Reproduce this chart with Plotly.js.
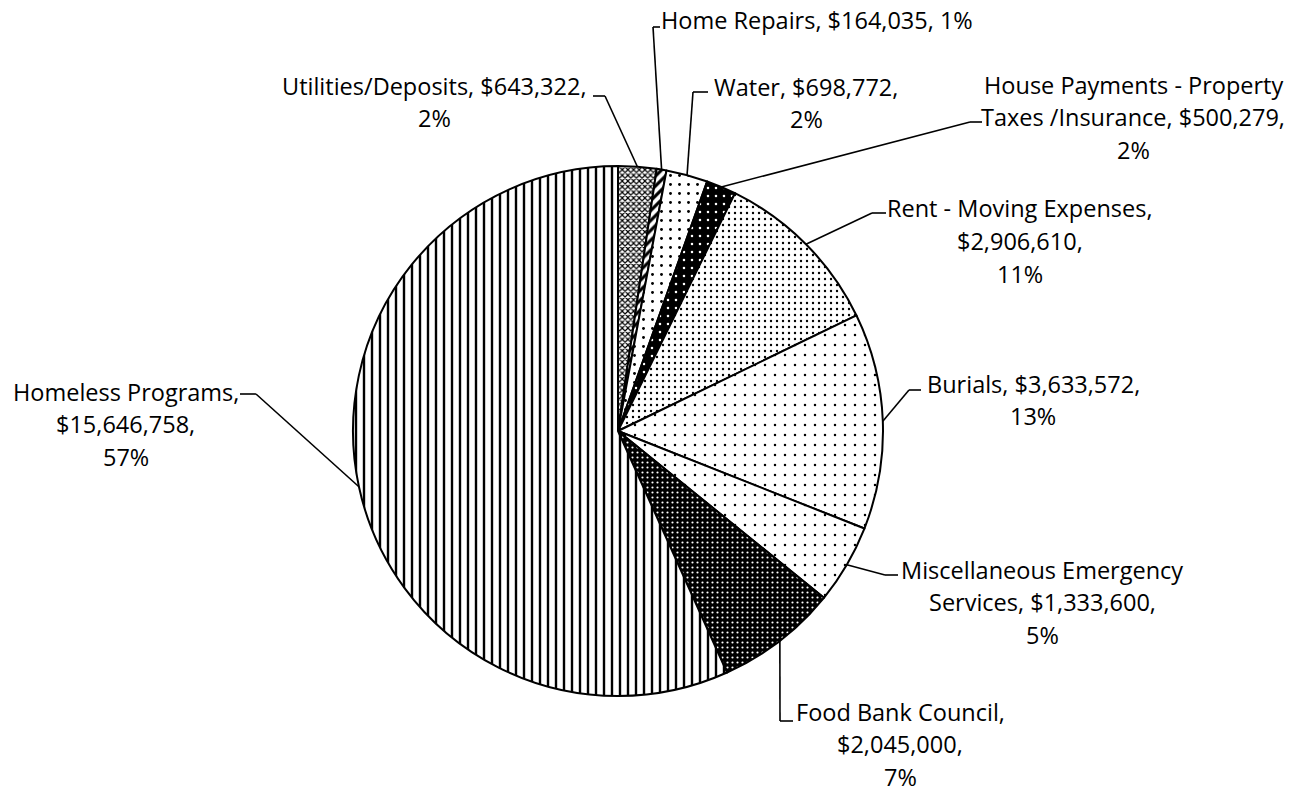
<!DOCTYPE html>
<html><head><meta charset="utf-8">
<script src="https://cdn.plot.ly/plotly-3.0.1.min.js"></script>
<style>html,body{margin:0;padding:0;background:#fff}#chart{width:1289px;height:793px}</style>
</head><body><div id="chart"></div>
<script>
// ---- data ----
const categories = ["Utilities/Deposits", "Home Repairs", "Water",
  "House Payments - Property Taxes /Insurance", "Rent - Moving Expenses", "Burials",
  "Miscellaneous Emergency Services", "Food Bank Council", "Homeless Programs"];
const values = [643322, 164035, 698772, 500279, 2906610, 3633572, 1333600, 2045000, 15646758];
const percentLabels = ["2%", "1%", "2%", "2%", "11%", "13%", "5%", "7%", "57%"];

// ---- layout constants ----
const W = 1289, H = 793;
const CX = 618, CY = 431, R = 265;
const lineWords = [[2,1],[4],[2,1],[4,3,1],[4,1,1],[2,1],[2,2,1],[3,1,1],[2,1,1]];
const labelPos = [[435,102],[817,20],[806,103],[1133,117],[1020,241],[1033,400],[1042,602],[900,744],[126,424]];
const stubs = [[593,605,96],[660,653,27],[708,693,92],[982,970,122],[886,872,213],[921,909,390],[898,885,575],[793,780,721],[240,256,394]];
const LINE_H = 32.5;
const FONT = {family: "Open Sans, sans-serif", size: 23.5, color: "#000"};

const styles = {
  shape:    ["x",   "/",   ".",   ".",   ".",   ".",   ".",   ".",   "|"],
  fg:       ["#000","#000","#000","#fff","#000","#000","#000","#fff","#000"],
  bg:       ["#fff","#fff","#fff","#000","#fff","#fff","#fff","#000","#fff"],
  size:     [4,     7,     9,     8,     6,     10,    10,    5,     8],
  solidity: [0.5,   0.45,  0.08,  0.08,  0.12,  0.05,  0.05,  0.15,  0.3]
};

const fmt = v => "$" + v.toLocaleString("en-US");
const total = values.reduce((a,b)=>a+b,0);
const px = x => x / W, py = y => 1 - y / H;

const annotations = [];
const shapes = [];
let cum = 0;
values.forEach((v, i) => {
  const words = `${categories[i]}, ${fmt(v)}, ${percentLabels[i]}`.split(" ");
  const lines = []; let k = 0;
  lineWords[i].forEach(n => { lines.push(words.slice(k, k+n).join(" ")); k += n; });
  const [lx, ly] = labelPos[i];
  lines.forEach((t, j) => {
    annotations.push({
      text: t, x: px(lx), y: py(ly + (j - (lines.length-1)/2) * LINE_H),
      xref: "paper", yref: "paper", showarrow: false,
      xanchor: "center", yanchor: "middle", font: FONT, borderpad: 0
    });
  });
  const th = 2*Math.PI*(cum + v/2)/total;
  cum += v;
  const ex = CX + R*Math.sin(th), ey = CY - R*Math.cos(th);
  const [s1, s2, sy] = stubs[i];
  const ln = {color: "#000", width: 1.6};
  shapes.push({type: "line", xref: "paper", yref: "paper", x0: px(s1), y0: py(sy), x1: px(s2), y1: py(sy), line: ln});
  shapes.push({type: "line", xref: "paper", yref: "paper", x0: px(s2), y0: py(sy), x1: px(ex), y1: py(ey), line: ln});
});

const trace = {
  type: "pie", labels: categories, values: values,
  sort: false, direction: "clockwise", rotation: 0,
  textinfo: "none", hoverinfo: "skip", showlegend: false,
  domain: {x: [(CX-R)/W, (CX+R)/W], y: [1-(CY+R)/H, 1-(CY-R)/H]},
  marker: {
    colors: styles.bg,
    line: {color: "#000", width: 2},
    pattern: {shape: styles.shape, fgcolor: styles.fg, bgcolor: styles.bg,
              size: styles.size, solidity: styles.solidity, fillmode: "replace"}
  }
};

Plotly.newPlot("chart", [trace], {
  width: W, height: H, margin: {l:0, r:0, t:0, b:0},
  paper_bgcolor: "#fff", plot_bgcolor: "#fff",
  annotations: annotations, shapes: shapes
}, {staticPlot: true});
</script></body></html>
